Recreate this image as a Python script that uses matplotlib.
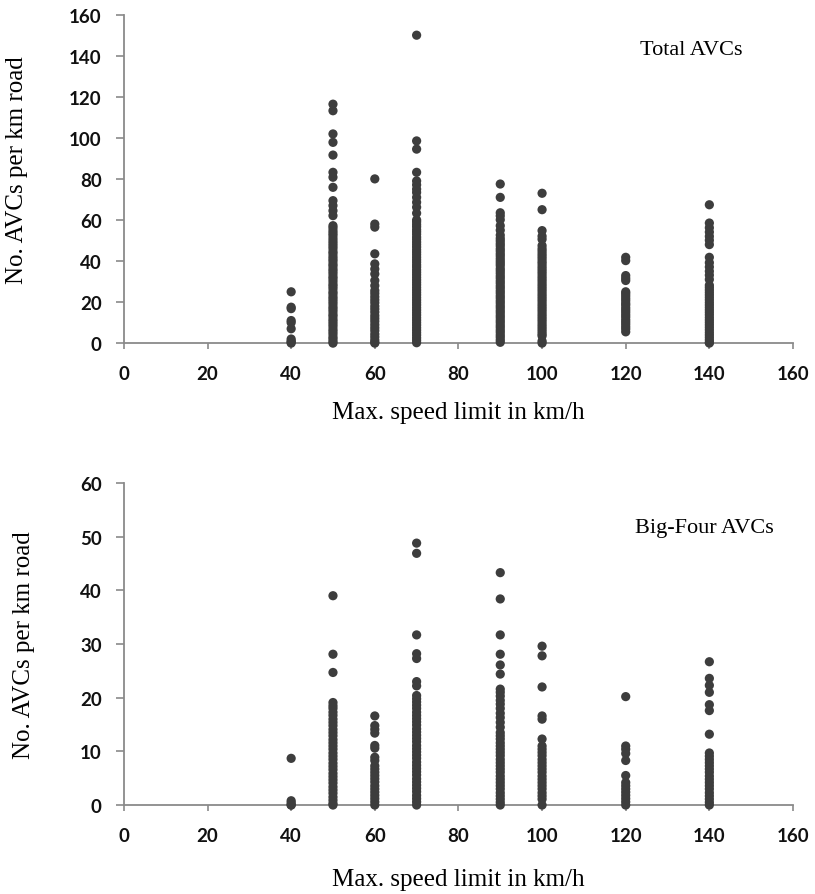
import matplotlib
matplotlib.use("Agg")
import matplotlib.pyplot as plt

# Speed-limit categories (km/h)
speeds = [40, 50, 60, 70, 90, 100, 120, 140]

# Total AVCs per km road, per speed-limit category
total_40 = [25, 17.5, 16.8, 11, 10, 7, 2, 1, 0.5, 0]
total_50 = [116.4, 113.2, 101.9, 97.8, 91.6, 83.2, 80.8, 75.9, 69.4, 67, 64.5, 62.1,
            57.2, 56.1, 54.7, 53.5, 52.4, 51.0, 49.7, 48.5, 47.3, 46.1, 44.6, 43.6,
            42.2, 41.0, 39.9, 38.5, 37.5, 36.1, 35.0, 33.8, 32.4, 31.4, 30.1, 28.7,
            27.7, 26.5, 25.0, 24.0, 22.6, 21.5, 20.3, 19.1, 17.7, 16.6, 15.4, 14.0,
            13.0, 11.6, 10.5, 9.3, 8.1, 6.7, 5.6, 4.4, 3.0, 2.0, 0.8, 0.0]
total_60 = [80, 58, 56.5, 43.5, 38.6, 36.1, 33.7, 30.5, 28.0, 25.6, 24.2, 22.6,
            21.1, 19.7, 18.0, 16.6, 15.1, 13.4, 12.0, 10.6, 9.0, 7.5, 6.1, 4.4,
            3.0, 1.5, 0.4, 0.0]
total_70 = [150, 98.5, 94.5, 83.2, 79.0, 77.1, 75.0, 73.4, 71.0, 68.6, 66.2, 63.3,
            60.0, 59.1, 57.8, 56.7, 55.3, 54.2, 53.0, 51.6, 50.5, 49.2, 48.0, 46.8,
            45.5, 44.3, 43.1, 41.8, 40.6, 39.4, 38.1, 37.0, 35.7, 34.5, 33.3, 32.0,
            30.8, 29.6, 28.4, 27.1, 25.9, 24.7, 23.5, 22.2, 21.0, 19.8, 18.6, 17.3,
            16.1, 14.9, 13.7, 12.4, 11.2, 10.0, 8.8, 7.5, 6.3, 5.1, 3.9, 2.6, 1.4, 0.2]
total_90 = [77.5, 71.0, 63.5, 62.0, 60.1, 57.2, 55.0, 52.6, 51.0, 49.8, 48.5, 47.4,
            46.0, 44.9, 43.6, 42.5, 41.2, 40.0, 38.9, 37.8, 36.3, 35.2, 34.0, 32.7,
            31.6, 30.3, 29.2, 27.9, 26.8, 25.5, 24.4, 23.1, 22.0, 20.7, 19.6, 18.3,
            17.2, 15.9, 14.8, 13.5, 12.4, 11.1, 10.0, 8.7, 7.6, 6.3, 5.2, 3.9, 2.8,
            1.5, 0.4]
total_100 = [73.0, 65.0, 54.8, 52.1, 50.6, 47.5, 46.0, 44.8, 43.5, 42.3, 41.1, 39.8,
             38.7, 37.4, 36.2, 35.0, 33.8, 32.5, 31.3, 30.1, 28.8, 27.6, 26.4, 25.2,
             23.9, 22.7, 21.5, 20.3, 19.0, 17.8, 16.6, 15.4, 14.1, 12.9, 11.7, 10.5,
             9.2, 8.0, 6.8, 5.6, 4.4, 3.5, 1.0, 0.0]
total_120 = [41.8, 40.2, 32.9, 31.6, 30.5, 25.0, 24.1, 23.0, 21.8, 20.7, 19.4, 18.5,
             17.2, 16.1, 15.0, 13.8, 12.7, 11.4, 10.3, 9.2, 8.0, 6.9, 5.5]
total_140 = [67.4, 58.5, 56.2, 54.1, 52.0, 50.1, 48.0, 41.8, 39.2, 37.1, 35.0, 33.1,
             31.0, 28.2, 27.1, 25.9, 24.7, 23.5, 22.3, 21.1, 19.8, 18.6, 17.4, 16.2,
             15.0, 13.8, 12.5, 11.3, 10.1, 8.9, 7.7, 6.5, 5.2, 4.0, 2.8, 1.6, 0.4, 0.0]

# Big-Four AVCs per km road, per speed-limit category
big4_40 = [8.7, 0.8, 0.4, 0.0, 0.0]
big4_50 = [39.0, 28.1, 24.7, 19.1, 18.5, 18.0, 17.3, 16.7, 16.0, 15.4, 14.8, 14.1,
           13.5, 12.9, 12.2, 11.6, 11.0, 10.4, 9.7, 9.1, 8.5, 7.8, 7.2, 6.6, 5.9,
           5.3, 4.7, 4.1, 3.4, 2.8, 2.2, 1.5, 0.9, 0.3, 0.0]
big4_60 = [16.6, 14.8, 14.1, 13.4, 11.1, 10.6, 8.9, 8.3, 7.3, 6.7, 6.1, 5.5, 4.9,
           4.3, 3.6, 3.0, 2.4, 1.8, 1.2, 0.6, 0.0]
big4_70 = [48.8, 46.9, 31.7, 28.2, 27.3, 23.0, 22.2, 20.4, 19.8, 19.2, 18.6, 18.0,
           17.3, 16.7, 16.1, 15.5, 14.9, 14.2, 13.6, 13.0, 12.4, 11.8, 11.1, 10.5,
           9.9, 9.3, 8.7, 8.0, 7.4, 6.8, 6.2, 5.6, 4.9, 4.3, 3.7, 3.1, 2.5, 1.8,
           1.2, 0.6, 0.0]
big4_90 = [43.3, 38.4, 31.7, 28.1, 26.1, 24.4, 21.6, 21.0, 20.3, 19.5, 18.8, 18.0,
           17.1, 16.3, 15.4, 14.5, 13.5, 12.9, 12.3, 11.6, 11.0, 10.4, 9.8, 9.2,
           8.5, 7.9, 7.3, 6.7, 6.1, 5.4, 4.8, 4.2, 3.6, 3.0, 2.3, 1.7, 1.1, 0.5, 0.0]
big4_100 = [29.6, 27.8, 22.0, 16.6, 16.0, 12.3, 11.0, 10.4, 9.8, 9.2, 8.5, 7.9, 7.3,
            6.7, 6.1, 5.4, 4.8, 4.2, 3.6, 3.0, 2.3, 1.7, 1.1, 0.0]
big4_120 = [20.2, 11.0, 10.4, 9.6, 8.3, 5.5, 4.2, 3.6, 3.0, 2.4, 1.8, 1.2, 0.6, 0.0]
big4_140 = [26.7, 23.6, 22.3, 21.0, 18.7, 17.6, 13.2, 9.7, 9.1, 8.5, 7.9, 7.3, 6.7,
            6.1, 5.4, 4.8, 4.2, 3.6, 3.0, 2.3, 1.7, 1.1, 0.5, 0.0]

total_groups = [total_40, total_50, total_60, total_70, total_90, total_100, total_120, total_140]
big4_groups = [big4_40, big4_50, big4_60, big4_70, big4_90, big4_100, big4_120, big4_140]

x_ticks = [0, 20, 40, 60, 80, 100, 120, 140, 160]
top_y_ticks = [0, 20, 40, 60, 80, 100, 120, 140, 160]
bottom_y_ticks = [0, 10, 20, 30, 40, 50, 60]

x_label = "Max. speed limit in km/h"
y_label = "No. AVCs per km road"

DOT = "#3d3d3d"
SPINE = "#8a8a8a"
SERIF = ["Liberation Serif", "DejaVu Serif"]
TICKFONT = ["Lato", "DejaVu Sans"]

fig = plt.figure(figsize=(8.15, 8.95), dpi=100)
ax_top = fig.add_axes([0.152, 0.6155, 0.821, 0.367])
ax_bot = fig.add_axes([0.152, 0.0994, 0.821, 0.3598])


def draw_panel(ax, groups, yticks, caption, cap_xy, xlab_y, ylab_xy):
    for s, vals in zip(speeds, groups):
        ax.scatter([s] * len(vals), vals, s=44, color=DOT, edgecolors="none",
                   clip_on=False, zorder=3)
    ax.set_xlim(0, 160)
    ax.set_ylim(yticks[0], yticks[-1])
    ax.set_xticks(x_ticks)
    ax.set_yticks(yticks)
    ax.set_xticklabels([str(t) for t in x_ticks])
    ax.set_yticklabels([str(t) for t in yticks])
    for lab in ax.get_xticklabels() + ax.get_yticklabels():
        lab.set_fontfamily(TICKFONT)
        lab.set_fontweight("bold")
        lab.set_fontsize(13.5)
        lab.set_color("#111111")
    for side in ("top", "right"):
        ax.spines[side].set_visible(False)
    for side in ("left", "bottom"):
        ax.spines[side].set_color(SPINE)
        ax.spines[side].set_linewidth(1.3)
    ax.tick_params(axis="x", direction="out", length=4.5, width=1.2,
                   color=SPINE, pad=11)
    ax.tick_params(axis="y", direction="out", length=6, width=1.2,
                   color=SPINE, pad=10)
    ax.set_xlabel(x_label, fontfamily=SERIF, fontsize=18)
    ax.set_ylabel(y_label, fontfamily=SERIF, fontsize=18)
    ax.xaxis.set_label_coords(0.5, xlab_y)
    ax.yaxis.set_label_coords(ylab_xy[0], ylab_xy[1])
    ax.text(cap_xy[0], cap_xy[1], caption, fontfamily=SERIF, fontsize=16,
            ha="left", va="center")
    ax.set_facecolor("white")


draw_panel(ax_top, total_groups, top_y_ticks, "Total AVCs", (123.5, 143.2),
           -0.1755, (-0.1435, 0.53))
draw_panel(ax_bot, big4_groups, bottom_y_ticks, "Big-Four AVCs", (122.2, 51.8),
           -0.196, (-0.133, 0.5))

fig.savefig("out.png", dpi=100, facecolor="white")
